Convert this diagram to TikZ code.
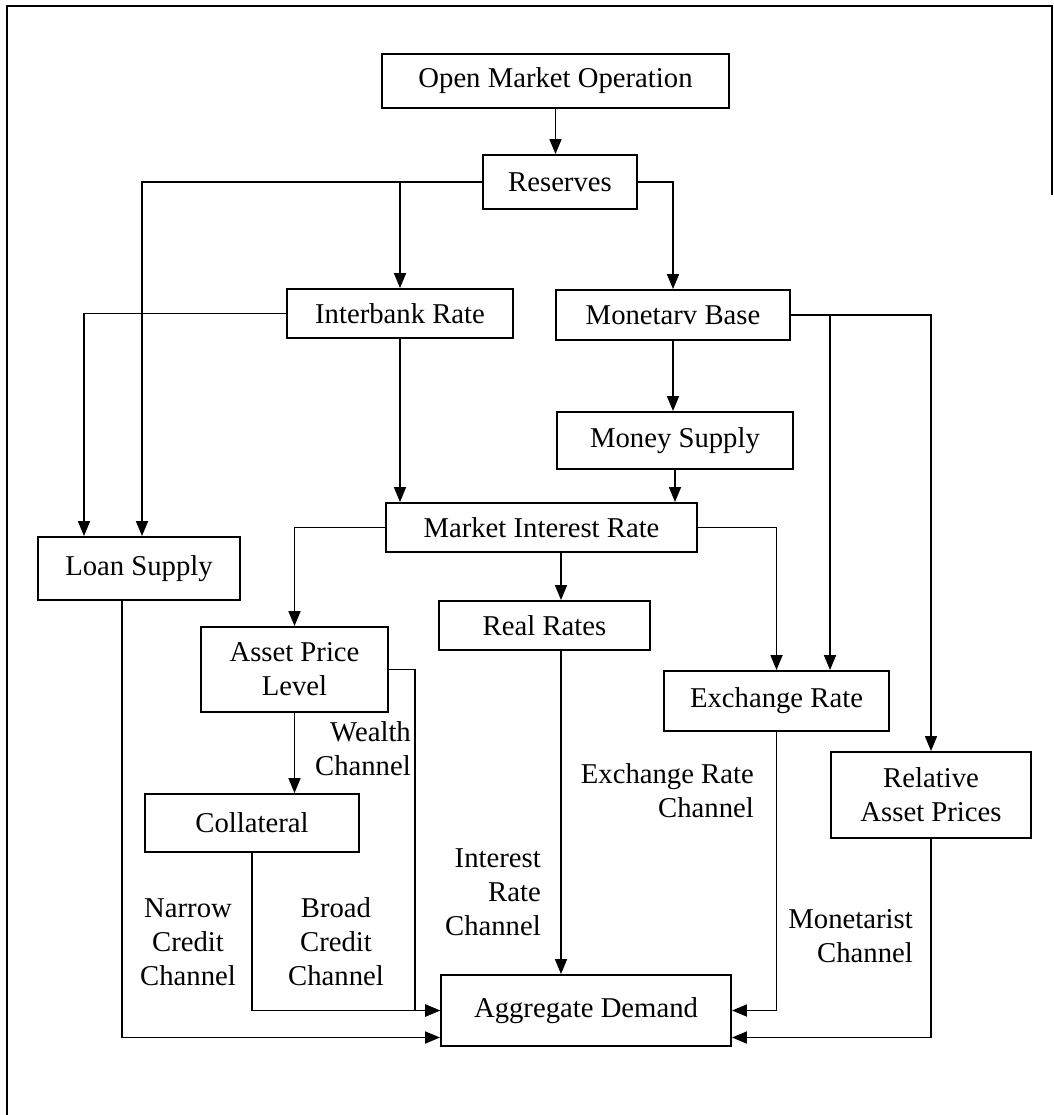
\documentclass[tikz,border=0pt]{standalone}
\usepackage{fontspec}
\setmainfont{Liberation Serif}
\usetikzlibrary{arrows.meta,calc}
\newcommand\figfont{\fontsize{28.7}{34}\selectfont}
\begin{document}
\begin{tikzpicture}[x=1pt,y=-1pt,
  box/.style={draw, line width=1.9pt, inner sep=0pt, align=center, font=\figfont},
  lbl/.style={inner sep=0pt, font=\figfont},
  arr/.style={line width=1.7pt, -{Triangle[length=15pt,width=12pt]}},
  ln/.style={line width=1.7pt}]
\useasboundingbox (0,0) rectangle (1053,1115);
\draw[ln] (1052,195) -- (1052,6) -- (7,6) -- (7,1115);

\node[box, minimum width=347pt, minimum height=54pt] (omo) at (555.5,81) {Open Market Operation};
\node[box, minimum width=154pt, minimum height=54pt] (res) at (560,182) {Reserves};
\node[box, minimum width=226pt, minimum height=49pt] (ib) at (400,313.5) {Interbank Rate};
\node[box, minimum width=234pt, minimum height=50pt] (mb) at (673,315) {Monetarv Base};
\node[box, minimum width=236pt, minimum height=57pt] (ms) at (675,440.5) {Money Supply};
\node[box, minimum width=202pt, minimum height=63pt] (ls) at (139,568.5) {Loan Supply};
\node[box, minimum width=311pt, minimum height=49pt] (mir) at (541.5,527.5) {Market Interest Rate};
\node[box, minimum width=211pt, minimum height=49pt] (rr) at (544.5,625.5) {Real Rates};
\node[box, minimum width=187pt, minimum height=85pt] (apl) at (294.5,669.5) {Asset Price\\Level};
\node[box, minimum width=225pt, minimum height=60pt] (er) at (776.5,701) {Exchange Rate};
\node[box, minimum width=214pt, minimum height=58pt] (col) at (252,823) {Collateral};
\node[box, minimum width=200pt, minimum height=86pt] (rap) at (931,795) {Relative\\Asset Prices};
\node[box, minimum width=290pt, minimum height=71pt] (ad) at (586,1010.5) {Aggregate Demand};

\coordinate (vx) at (561,0);
\coordinate (bx) at (830,0);
\coordinate (lx) at (122,0);

\draw[arr] (omo.south) -- (omo.south |- res.north);
\draw[arr] (res.west) -| ($(ls.north)+(3,0)$);
\draw[arr] (res.west -| ib.north) -- (ib.north);
\draw[arr] (res.east) -| (mb.north);
\draw[arr] (ib.west) -| ($(ls.north)+(-55,0)$);
\draw[arr] (ib.south) -- (ib.south |- mir.north);
\draw[arr] (mb.south) -- (mb.south |- ms.north);
\draw[arr] (mb.east) -| (rap.north);
\draw[arr] (mb.east -| bx) -- (er.north -| bx);
\draw[arr] (ms.south) -- (ms.south |- mir.north);
\draw[arr] (mir.west) -| (apl.north);
\draw[arr] (mir.south -| vx) -- (rr.north -| vx);
\draw[arr] (mir.east) -| (er.north);
\draw[arr] (apl.south) -- (apl.south |- col.north);
\draw[arr] (ls.south -| lx) |- ($(ad.west)+(0,27)$);
\draw[arr] (apl.east) -- ++(26,0) |- (ad.west);
\draw[arr] (col.south) |- (ad.west);
\draw[arr] (rr.south -| vx) -- (ad.north -| vx);
\draw[arr] (er.south) |- (ad.east);
\draw[arr] (rap.south) |- ($(ad.east)+(0,27)$);

\node[lbl, anchor=east, align=right] (wc) at (411,749) {Wealth\\Channel};
\node[lbl, align=center] (nc) at (188,942) {Narrow\\Credit\\Channel};
\node[lbl, align=center] (bc) at (336,942) {Broad\\Credit\\Channel};
\node[lbl, anchor=east, align=right] (ic) at (541,892) {Interest\\Rate\\Channel};
\node[lbl, anchor=east, align=right] (ec) at (754,791) {Exchange Rate\\Channel};
\node[lbl, anchor=east, align=right] (mc) at (913,936) {Monetarist\\Channel};
\end{tikzpicture}
\end{document}
